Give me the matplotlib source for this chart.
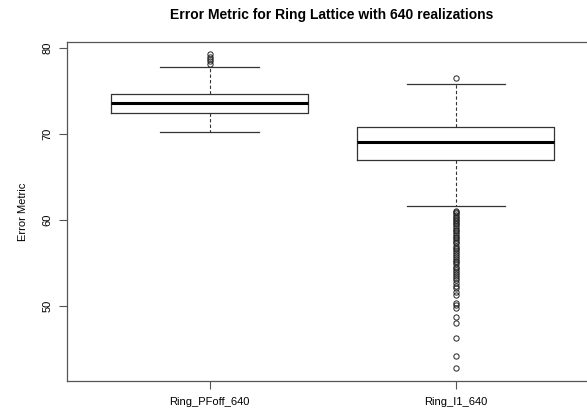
import matplotlib
matplotlib.use('Agg')
import matplotlib.pyplot as plt

plt.rcParams['font.family'] = ['Liberation Sans', 'DejaVu Sans']

labels = ['Ring_PFoff_640', 'Ring_I1_640']
q1 = [72.45, 67.0]
med = [73.6, 69.1]
q3 = [74.65, 70.8]
whislo = [70.2, 61.7]
whishi = [77.8, 75.8]
fliers_pfoff = [78.2, 78.5, 78.7, 79.0, 79.3]
fliers_i1 = [76.5,
             61.1, 60.9, 60.8, 60.6, 60.4, 60.2, 60.0, 59.9, 59.7, 59.5,
             59.3, 59.1, 58.9, 58.7, 58.5, 58.3, 58.1, 57.9, 57.7, 57.5,
             57.3, 57.0, 56.8, 56.6, 56.4, 56.2, 55.9, 55.7, 55.5, 55.3,
             55.1, 54.9, 54.6, 54.4, 54.2, 54.0, 53.8, 53.5, 53.3, 53.0,
             52.7, 52.4, 52.1, 51.6, 51.3, 50.4, 50.2, 49.8, 48.7, 48.1,
             46.3, 44.2, 42.8]
fliers = [fliers_pfoff, fliers_i1]

stats = []
for i in range(len(labels)):
    stats.append({'label': labels[i], 'q1': q1[i], 'med': med[i], 'q3': q3[i],
                  'whislo': whislo[i], 'whishi': whishi[i], 'fliers': fliers[i]})

fig = plt.figure(figsize=(5.87, 4.12), dpi=100)
ax = fig.add_axes([0.114, 0.075, 0.906, 0.823])

lc = '#333333'
ax.bxp(stats, positions=[1, 2], widths=0.8, capwidths=0.4,
       boxprops=dict(color=lc, linewidth=0.9),
       medianprops=dict(color='black', linewidth=2.2),
       whiskerprops=dict(color=lc, linewidth=0.8, linestyle=(0, (3, 2))),
       capprops=dict(color=lc, linewidth=0.9),
       flierprops=dict(marker='o', markersize=3.8, markerfacecolor='none',
                       markeredgecolor='#222222', markeredgewidth=0.7))

ax.set_xlim(0.42, 2.58)
ax.set_ylim(41.3, 80.7)
ax.set_yticks([50, 60, 70, 80])
ax.set_yticklabels(['50', '60', '70', '80'], rotation=90, va='center')
ax.set_xticks([1, 2])
ax.set_xticklabels(labels)
ax.tick_params(axis='both', labelsize=8, length=5.5, width=0.8, color='#555555')
ax.tick_params(axis='y', pad=5)
ax.tick_params(axis='x', pad=6)
for s in ax.spines.values():
    s.set_color('#555555')
    s.set_linewidth(0.9)

ax.set_ylabel('Error Metric', fontsize=8, labelpad=10)
fig.text(0.565, 0.963, 'Error Metric for Ring Lattice with 640 realizations',
         ha='center', va='center', fontsize=10, fontweight='bold')

fig.savefig('out.png', dpi=100)
